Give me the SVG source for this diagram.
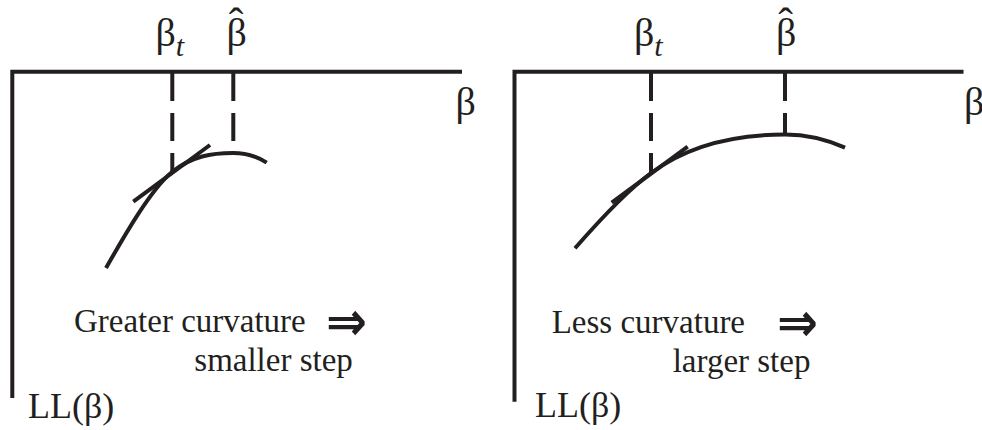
<svg xmlns="http://www.w3.org/2000/svg" width="982" height="430" viewBox="0 0 982 430">
<style>
.ax{fill:none;stroke:#231f20;stroke-width:4;stroke-linejoin:miter}
.cv{fill:none;stroke:#231f20;stroke-width:4;stroke-linecap:butt}
.ds{fill:none;stroke:#231f20;stroke-width:4;stroke-dasharray:28 12}
.t{font-family:"Liberation Serif","Times New Roman",serif;fill:#231f20}
.lb{font-size:33px}
.g{font-size:36px}
.b{font-size:40px}
.sub{font-size:30px;font-style:italic}
.hat{font-size:44px;text-anchor:middle}
.ar{font-family:"DejaVu Sans",sans-serif;font-weight:bold;font-size:54px;fill:#231f20}
</style>
<rect width="982" height="430" fill="#ffffff"/>
<g id="panel-left">
  <path class="ax" d="M12.3,398 V71.7 H462"/>
  <path class="ds" d="M172.3,73 V172"/>
  <path class="ds" d="M233.3,73 V143"/>
  <path class="cv" d="M106,268 C122,240 150,190 172,172 C192,156 212,153 233,153 C248,153 258,157 266.7,162.7"/>
  <path class="cv" d="M133.3,201.7 L210,145"/>
  <text class="t b" x="155.5" y="46">β<tspan class="sub" dy="10">t</tspan></text>
  <text class="t b" x="226.5" y="46">β</text>
  <text class="t hat" x="236" y="38">ˆ</text>
  <text class="t b" x="455.5" y="115">β</text>
  <text class="t lb" x="74" y="332">Greater curvature</text>
  <text class="ar" x="326" y="340" textLength="41" lengthAdjust="spacingAndGlyphs">⇒</text>
  <text class="t lb" x="194.3" y="371">smaller step</text>
  <text class="t g" x="28" y="418">LL(β)</text>
</g>
<g id="panel-right">
  <path class="ax" d="M514.5,401.7 V71.7 H963.5"/>
  <path class="ds" d="M651,73 V173"/>
  <path class="ds" d="M785,73 V135"/>
  <path class="cv" d="M575,248.3 C598,222 628,190 651,173 C690,144 740,134.5 785,134.5 C810,134.5 830,141 845,147.7"/>
  <path class="cv" d="M611.7,202.7 L687.7,146.7"/>
  <text class="t b" x="634" y="46">β<tspan class="sub" dy="10">t</tspan></text>
  <text class="t b" x="776" y="46">β</text>
  <text class="t hat" x="785.5" y="38">ˆ</text>
  <text class="t b" x="964" y="115">β</text>
  <text class="t lb" x="551.7" y="333">Less curvature</text>
  <text class="ar" x="777" y="341" textLength="41" lengthAdjust="spacingAndGlyphs">⇒</text>
  <text class="t lb" x="672.7" y="372">larger step</text>
  <text class="t g" x="535" y="417">LL(β)</text>
</g>
</svg>
